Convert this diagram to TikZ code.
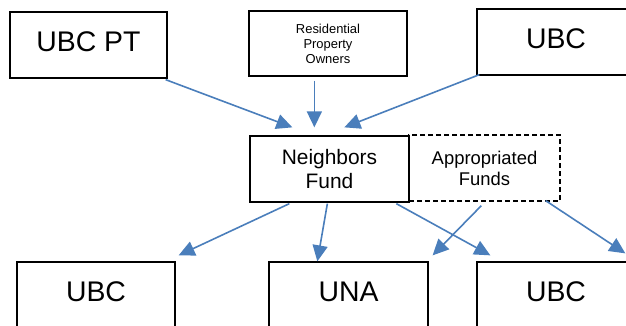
\documentclass[tikz,border=0pt]{standalone}
\usepackage{fontspec}
\setmainfont{Liberation Sans}
\usetikzlibrary{arrows.meta,calc}
\definecolor{arrowblue}{RGB}{74,126,187}
\begin{document}
\begin{tikzpicture}[x=1bp,y=-1bp,
  box/.style={draw=black,line width=1.3bp,rectangle,inner sep=0pt,minimum height=66bp},
  bigtext/.style={font=\fontsize{28.5}{34}\selectfont,text height=20.5bp,text depth=8.5bp},
  dashbox/.style={draw=black,line width=1.3bp,dash pattern=on 5bp off 3bp,rectangle,inner sep=0pt,minimum height=66bp},
  flow/.style={draw=arrowblue,line width=1.6bp,-{Triangle[length=16bp,width=15bp]}}]
\useasboundingbox (0,0) rectangle (626,325);
% top row
\node[box,bigtext,minimum width=157bp] (ubcpt) at (88.5,45) {UBC PT};
\node[box,minimum width=158bp,minimum height=65bp,align=center,font=\fontsize{13}{15}\selectfont] (res) at (328,43.5) {Residential\\Property\\Owners};
\node[box,bigtext,minimum width=158bp] (ubctop) at (556,42) {UBC};
% middle
\node[dashbox,minimum width=151bp,align=center,font=\fontsize{18.5}{21}\selectfont] (af) at (484.5,168) {Appropriated\\Funds};
\node[box,minimum width=159bp,align=center,font=\fontsize{21}{24}\selectfont] (nf) at (329.5,169) {Neighbors\\Fund};
% bottom row
\node[box,bigtext,minimum width=158bp] (ubcl) at (96,295) {UBC};
\node[box,bigtext,minimum width=159bp] (una) at (348.5,295) {UNA};
\node[box,bigtext,minimum width=158bp] (ubcr) at (556,295) {UBC};
% arrows in
\draw[flow] ($(ubcpt.south east)+(-2,1)$) -- ($(nf.north west)+(43,-8)$);
\draw[flow] ($(res.south west)+(66,4)$) -- ($(nf.north west)+(65,-8)$);
\draw[flow] ($(ubctop.south west)+(3,-1)$) -- ($(nf.north west)+(95,-8)$);
% arrows out
\draw[flow] ($(nf.south west)+(40,1)$) -- ($(ubcl.north east)+(3,-6)$);
\draw[flow] ($(nf.south west)+(78,1)$) -- ($(una.north west)+(49,0)$);
\draw[flow] ($(nf.south west)+(147,1)$) -- ($(ubcr.north west)+(14,-6)$);
\draw[flow] ($(af.south west)+(73,4)$) -- ($(una.north east)+(4,-6)$);
\draw[flow] ($(af.south east)+(-15,-1)$) -- ($(ubcr.north west)+(149,-8)$);
\end{tikzpicture}
\end{document}
